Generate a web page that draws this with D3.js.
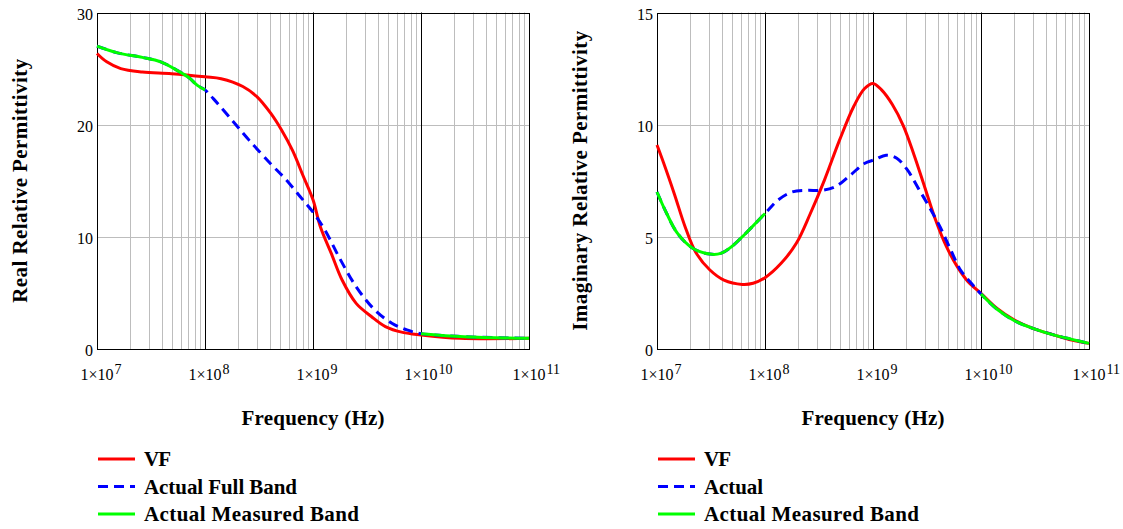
<!DOCTYPE html>
<html>
<head>
<meta charset="utf-8">
<script src="https://cdn.jsdelivr.net/npm/d3@7"></script>
<style>
  body { margin: 0; background: #fff; }
  svg { display: block; font-family: "Liberation Serif", "Times New Roman", serif; }
</style>
</head>
<body>
<div id="svg-container"></div>
<script>
////////////////////////////////////////////////////////////////////
////////////////////////////  Data  ////////////////////////////////

// x axis (Hz)
const xTicks = [1e7, 1e8, 1e9, 1e10, 1e11];
const xTickExp = ["7", "8", "9", "10", "11"];

// measured frequency ranges
const measuredBands = [[1e7, 1e8], [1e10, 1e11]];

// real part - vector fitting model
const freqVfRe = [1e7, 1.23e7, 1.66e7, 2.63e7, 4.9e7, 1e8, 1.41e8, 2.24e8, 3.02e8, 4.07e8, 5.13e8,
  6.46e8, 8.13e8, 1e9, 1.17e9, 1.48e9, 1.86e9, 2.51e9, 3.47e9, 4.68e9, 6.76e9, 1e10, 2.29e10, 1e11];
const vfRe = [26.35, 25.6, 25.0, 24.7, 24.55, 24.27, 24.1, 23.4, 22.5, 21.0, 19.5,
  17.7, 15.4, 13.3, 10.9, 8.5, 6.15, 4.07, 2.9, 2.0, 1.48, 1.25, 0.95, 0.95];

// real part - actual material
const freqActRe = [1e7, 1.55e7, 2.63e7, 3.89e7, 5.62e7, 7.08e7, 8.51e7, 1e8, 1.2e8, 1.78e8, 2.57e8,
  4.07e8, 5.5e8, 7.59e8, 1e9, 1.29e9, 1.74e9, 2.51e9, 3.72e9, 5.37e9, 7.41e9, 1e10, 2.51e10, 1e11];
const actRe = [27.0, 26.4, 26.0, 25.6, 24.8, 24.2, 23.5, 23.1, 22.3, 20.4, 18.6,
  16.5, 15.2, 13.6, 12.2, 10.6, 8.2, 5.55, 3.5, 2.3, 1.7, 1.37, 1.1, 0.95];

// imaginary part - vector fitting model
const freqVfIm = [1e7, 1.15e7, 1.45e7, 1.82e7, 2.29e7, 3.09e7, 4.17e7, 6.17e7, 7.76e7, 1e8, 1.41e8,
  1.95e8, 2.63e8, 3.55e8, 4.9e8, 6.61e8, 8.32e8, 1e9, 1.2e9, 1.51e9, 1.91e9, 2.4e9, 3.02e9,
  3.8e9, 4.79e9, 6.03e9, 7.59e9, 1e10, 1.41e10, 2.04e10, 3.02e10, 4.79e10, 6.92e10, 1e11];
const vfIm = [9.09, 8.3, 6.9, 5.45, 4.3, 3.52, 3.07, 2.88, 2.93, 3.18, 3.82,
  4.71, 6.04, 7.53, 9.31, 10.8, 11.6, 11.84, 11.55, 10.9, 9.95, 8.65, 7.2,
  5.75, 4.56, 3.67, 3.0, 2.48, 1.81, 1.29, 0.92, 0.62, 0.40, 0.25];

// imaginary part - actual material
const freqActIm = [1e7, 1.23e7, 1.55e7, 2.14e7, 3.09e7, 3.89e7, 4.9e7, 6.61e7, 1e8, 1.32e8, 1.78e8,
  2.45e8, 3.31e8, 4.47e8, 6.17e8, 8.32e8, 1.05e9, 1.32e9, 1.66e9, 2.09e9, 2.63e9, 3.31e9,
  4.17e9, 5.25e9, 6.46e9, 8.13e9, 1e10, 1.41e10, 2.04e10, 3.02e10, 4.79e10, 6.92e10, 1e11];
const actIm = [7.0, 6.04, 5.15, 4.49, 4.23, 4.26, 4.56, 5.15, 6.04, 6.64, 7.0,
  7.07, 7.07, 7.23, 7.75, 8.27, 8.45, 8.64, 8.5, 7.97, 7.16, 6.34,
  5.45, 4.41, 3.52, 2.93, 2.45, 1.77, 1.26, 0.92, 0.62, 0.43, 0.25];

const yTicksRe = [0, 10, 20, 30];
const yTicksIm = [0, 5, 10, 15];

const legendRe = ["VF", "Actual Full Band", "Actual Measured Band"];
const legendIm = ["VF", "Actual", "Actual Measured Band"];

////////////////////////////////////////////////////////////////////
////////////////////////////  Init  ////////////////////////////////

const width = 1123;
const height = 529;

const svg = d3.select("#svg-container").append("svg")
  .attr("width", width)
  .attr("height", height);

const zip = (fs, vs) => fs.map((f, i) => ({ f: f, v: vs[i] }));

const panels = [
  {
    left: 97, right: 529, top: 12.5, bottom: 349,
    yTicks: yTicksRe,
    yTitle: "Real Relative Permittivity", yTitleLen: 244,
    vf: zip(freqVfRe, vfRe), act: zip(freqActRe, actRe),
    legend: legendRe, legendLen: [27, 153, 215]
  },
  {
    left: 657, right: 1089, top: 12.5, bottom: 349,
    yTicks: yTicksIm,
    yTitle: "Imaginary Relative Permittivity", yTitleLen: 300,
    vf: zip(freqVfIm, vfIm), act: zip(freqActIm, actIm),
    legend: legendIm, legendLen: [27, 59, 215]
  }
];

const colors = ["#ff0000", "#0000ff", "#00ff00"];
const dash = "10,6";
const px = (v) => Math.round(v) + 0.5; // crisp 1px lines
const isDecade = (t) => Math.abs(Math.log10(t) - Math.round(Math.log10(t))) < 1e-9;

////////////////////////////////////////////////////////////////////
////////////////////////////  Draw  ////////////////////////////////

panels.forEach((p) => {
  const g = svg.append("g");

  const x = d3.scaleLog()
    .domain([xTicks[0], xTicks[xTicks.length - 1]])
    .range([p.left, p.right]);
  const y = d3.scaleLinear()
    .domain([p.yTicks[0], p.yTicks[p.yTicks.length - 1]])
    .range([p.bottom, p.top]);

  // minor grid (2..9 in every decade)
  g.selectAll(".minor")
    .data(x.ticks().filter((t) => !isDecade(t)))
    .enter().append("line")
    .attr("x1", (d) => px(x(d))).attr("x2", (d) => px(x(d)))
    .attr("y1", p.top).attr("y2", p.bottom)
    .attr("stroke", "#bdbdbd").attr("stroke-width", 1);

  // horizontal grid
  g.selectAll(".hgrid")
    .data(p.yTicks.slice(1, -1))
    .enter().append("line")
    .attr("x1", p.left).attr("x2", p.right)
    .attr("y1", (d) => px(y(d))).attr("y2", (d) => px(y(d)))
    .attr("stroke", "#bdbdbd").attr("stroke-width", 1);

  // decade lines
  g.selectAll(".major")
    .data(xTicks.slice(1, -1))
    .enter().append("line")
    .attr("x1", (d) => px(x(d))).attr("x2", (d) => px(x(d)))
    .attr("y1", p.top).attr("y2", p.bottom)
    .attr("stroke", "#000").attr("stroke-width", 1);

  // frame
  g.append("rect")
    .attr("x", px(p.left)).attr("y", px(p.top))
    .attr("width", Math.round(p.right) - Math.round(p.left))
    .attr("height", Math.round(p.bottom) - Math.round(p.top))
    .attr("fill", "none").attr("stroke", "#000").attr("stroke-width", 1);

  // y tick labels
  g.selectAll(".ylab")
    .data(p.yTicks)
    .enter().append("text")
    .attr("x", p.left - 4)
    .attr("y", (d) => y(d) + 7)
    .attr("text-anchor", "end")
    .attr("font-size", 16)
    .text((d) => d);

  // x tick labels: "1×10" centred on the tick, exponent raised after it
  xTicks.forEach((t, i) => {
    const lab = g.append("text").attr("y", 380).attr("font-size", 16);
    const base = lab.append("tspan").text("1×10");
    const w = base.node().getComputedTextLength();
    base.attr("x", x(t) - w / 2);
    lab.append("tspan")
      .attr("dx", 1).attr("dy", -6)
      .attr("font-size", 14)
      .text(xTickExp[i]);
  });

  // axis titles
  g.append("text")
    .attr("x", (p.left + p.right) / 2)
    .attr("y", 425)
    .attr("text-anchor", "middle")
    .attr("font-size", 21).attr("font-weight", "bold")
    .attr("textLength", 143).attr("lengthAdjust", "spacing")
    .text("Frequency (Hz)");

  g.append("text")
    .attr("transform", `translate(${p.left - 70},${(p.top + p.bottom) / 2}) rotate(-90)`)
    .attr("text-anchor", "middle")
    .attr("font-size", 21).attr("font-weight", "bold")
    .attr("textLength", p.yTitleLen).attr("lengthAdjust", "spacing")
    .text(p.yTitle);

  // curves
  const line = d3.line()
    .x((d) => x(d.f))
    .y((d) => y(d.v))
    .curve(d3.curveCatmullRom.alpha(0.5));

  g.append("path")
    .datum(p.vf)
    .attr("d", line)
    .attr("fill", "none").attr("stroke", colors[0]).attr("stroke-width", 3);

  g.append("path")
    .datum(p.act)
    .attr("d", line)
    .attr("fill", "none").attr("stroke", colors[1]).attr("stroke-width", 3)
    .attr("stroke-dasharray", dash);

  measuredBands.forEach((b) => {
    g.append("path")
      .datum(p.act.filter((d) => d.f >= b[0] && d.f <= b[1]))
      .attr("d", line)
      .attr("fill", "none").attr("stroke", colors[2]).attr("stroke-width", 3);
  });

  // legend
  p.legend.forEach((name, i) => {
    const ly = 459 + i * 27.5;
    g.append("line")
      .attr("x1", p.left + 1).attr("x2", p.left + 38)
      .attr("y1", ly).attr("y2", ly)
      .attr("stroke", colors[i]).attr("stroke-width", 3)
      .attr("stroke-dasharray", i === 1 ? dash : null);
    g.append("text")
      .attr("x", p.left + 47)
      .attr("y", ly + 7)
      .attr("font-size", 21).attr("font-weight", "bold")
      .attr("textLength", p.legendLen[i]).attr("lengthAdjust", "spacing")
      .text(name);
  });
});
</script>
</body>
</html>
